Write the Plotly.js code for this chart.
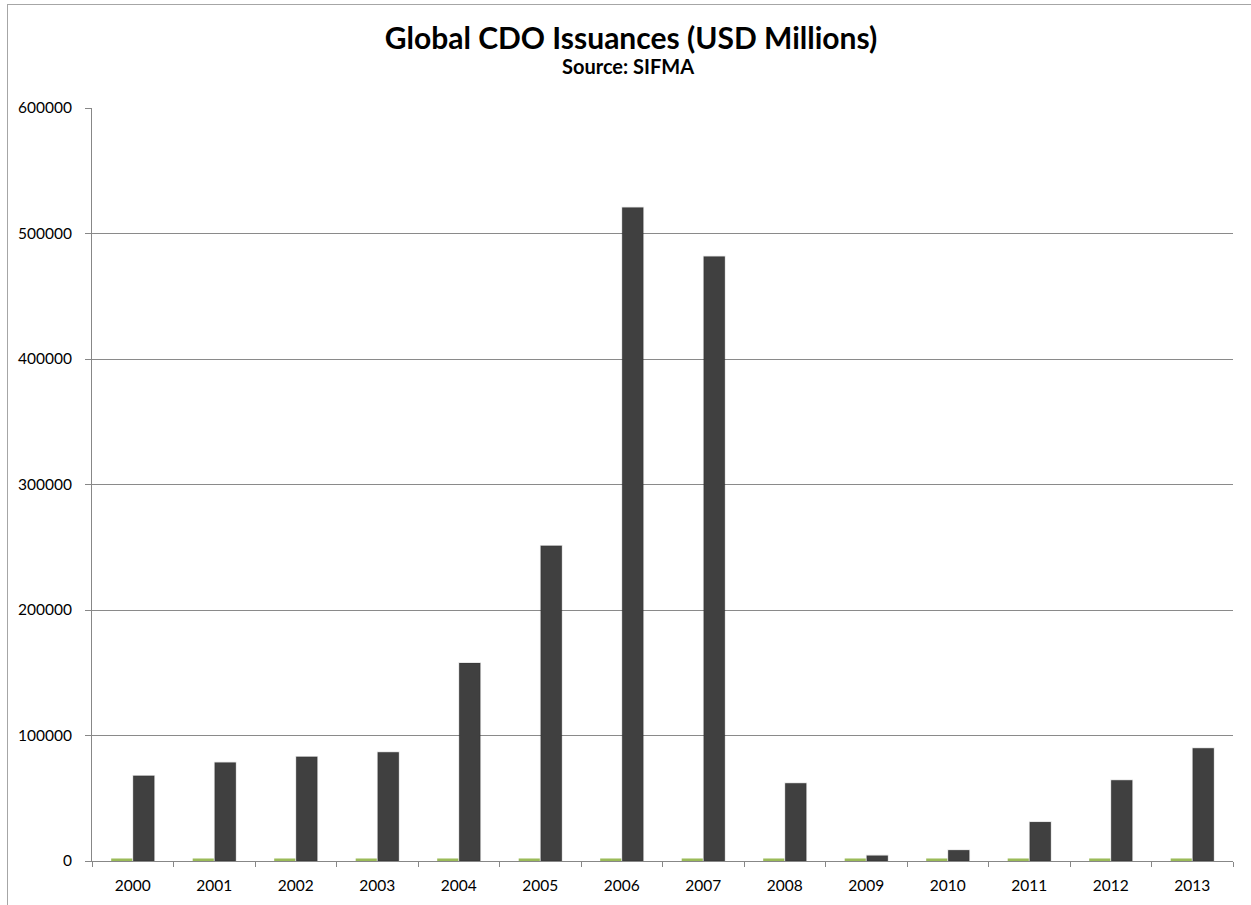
<!DOCTYPE html>
<html>
<head>
<meta charset="utf-8">
<script src="https://cdn.plot.ly/plotly-3.0.1.min.js"></script>
<style>
  html, body { margin: 0; padding: 0; background: #ffffff; overflow: hidden; }
  #chart { position: absolute; left: 0; top: 0; width: 1251px; height: 905px; }
  #frame { position: absolute; left: 7px; top: 4px; width: 1300px; height: 1000px;
           border-left: 1.5px solid #a6a6a6; border-top: 1.5px solid #a6a6a6;
           pointer-events: none; box-sizing: border-box; }
</style>
</head>
<body>
<div id="chart"></div>
<div id="frame"></div>
<script>
const years = ['2000','2001','2002','2003','2004','2005','2006','2007','2008','2009','2010','2011','2012','2013'];
// small series: the year values themselves (appear as thin green slivers)
const yearSeries = [2000,2001,2002,2003,2004,2005,2006,2007,2008,2009,2010,2011,2012,2013];
// Global CDO issuance, USD millions
const issuance = [67995,78451,83070,86629,157820,251265,520644,481601,61891,4312,8627,31017,64355,89936];
const yTicks = [0,100000,200000,300000,400000,500000,600000];

const FONT = 'Lato, "Open Sans", sans-serif';

const traces = [
  {
    type: 'bar', x: years, y: yearSeries, name: 'Year',
    marker: { color: '#9bbb59', line: { width: 0 } },
    hoverinfo: 'none'
  },
  {
    type: 'bar', x: years, y: issuance, name: 'CDO Issuance',
    marker: { color: '#404040', line: { color: 'rgba(0,0,0,0.13)', width: 1.5 } },
    hoverinfo: 'none'
  }
];

const layout = {
  width: 1251, height: 905,
  margin: { l: 92, r: 18, t: 108, b: 44 },
  paper_bgcolor: 'rgba(0,0,0,0)',
  plot_bgcolor: '#ffffff',
  showlegend: false,
  barmode: 'group',
  bargap: 0.46,
  bargroupgap: 0.04,
  font: { family: FONT, color: '#000000', size: 15 },
  title: {
    text: '<b>Global CDO Issuances (USD Millions)</b>',
    font: { family: FONT, size: 30, color: '#000000' },
    xref: 'container', x: 631 / 1251, xanchor: 'center',
    yref: 'container', y: 1 - 38 / 905, yanchor: 'middle'
  },
  annotations: [{
    text: '<b>Source: SIFMA</b>',
    xref: 'paper', yref: 'paper',
    x: (628 - 92) / (1251 - 92 - 18), xanchor: 'center',
    y: 1 + (108 - 66) / (905 - 108 - 44), yanchor: 'middle',
    showarrow: false,
    font: { family: FONT, size: 20, color: '#000000' }
  }],
  xaxis: {
    type: 'category',
    showline: true, linecolor: '#878787', linewidth: 1,
    ticks: 'outside', tickson: 'boundaries', ticklen: 5, tickcolor: '#878787', tickwidth: 1,
    showgrid: false, zeroline: false,
    tickfont: { family: FONT, size: 15.5, color: '#000000' },
    ticklabelstandoff: 10
  },
  yaxis: {
    range: [0, 600000],
    tickvals: yTicks,
    ticktext: yTicks.map(String),
    showline: true, linecolor: '#878787', linewidth: 1,
    ticks: 'outside', ticklen: 6, tickcolor: '#878787', tickwidth: 1,
    showgrid: true, gridcolor: '#8a8a8a', gridwidth: 1,
    zeroline: false,
    tickfont: { family: FONT, size: 15.5, color: '#000000' },
    ticklabelstandoff: 10
  }
};

Plotly.newPlot('chart', traces, layout, { displayModeBar: false, staticPlot: true });
</script>
</body>
</html>
